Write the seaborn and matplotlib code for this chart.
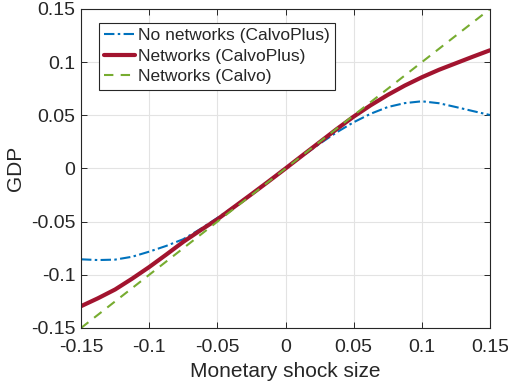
import numpy as np
import pandas as pd
import matplotlib
matplotlib.use("Agg")
import matplotlib.pyplot as plt
import seaborn as sns

# Monetary shock grid
shock = [-0.15, -0.1375, -0.125, -0.1125, -0.1, -0.0875, -0.075, -0.0625, -0.05,
         -0.0375, -0.025, -0.0125, 0.0, 0.0125, 0.025, 0.0375, 0.05, 0.0625,
         0.075, 0.0875, 0.1, 0.1125, 0.125, 0.1375, 0.15]

# GDP responses
gdp_no_networks_calvoplus = [-0.0854, -0.0861, -0.0857, -0.0830, -0.0782, -0.0728, -0.0665,
                             -0.0570, -0.0465, -0.0355, -0.0238, -0.0120, 0.0, 0.0118,
                             0.0232, 0.0340, 0.0435, 0.0515, 0.0578, 0.0615, 0.0632,
                             0.0614, 0.0578, 0.0540, 0.0503]
gdp_networks_calvoplus = [-0.1295, -0.1220, -0.1138, -0.1036, -0.0927, -0.0810, -0.0690,
                          -0.0582, -0.0478, -0.0360, -0.0242, -0.0122, 0.0, 0.0124,
                          0.0247, 0.0370, 0.0488, 0.0595, 0.0692, 0.0780, 0.0858,
                          0.0928, 0.0990, 0.1052, 0.1112]
gdp_networks_calvo = [-0.15, -0.1375, -0.125, -0.1125, -0.1, -0.0875, -0.075, -0.0625, -0.05,
                      -0.0375, -0.025, -0.0125, 0.0, 0.0125, 0.025, 0.0375, 0.05, 0.0625,
                      0.075, 0.0875, 0.1, 0.1125, 0.125, 0.1375, 0.15]

series_labels = ["No networks (CalvoPlus)", "Networks (CalvoPlus)", "Networks (Calvo)"]
tick_values = [-0.15, -0.1, -0.05, 0, 0.05, 0.1, 0.15]
tick_labels = ["-0.15", "-0.1", "-0.05", "0", "0.05", "0.1", "0.15"]

df = pd.DataFrame({
    "shock": shock,
    series_labels[0]: gdp_no_networks_calvoplus,
    series_labels[1]: gdp_networks_calvoplus,
    series_labels[2]: gdp_networks_calvo,
})

sns.set_theme(style="white")
plt.rcParams["font.family"] = ["Liberation Sans", "DejaVu Sans"]

fig = plt.figure(figsize=(5.08, 3.83), dpi=100)
ax = fig.add_axes([81 / 508, 1 - 328 / 383, 409 / 508, 319 / 383])

styles = [
    dict(color="#0072BD", linewidth=1.5, dashes=(5, 1.6, 1.2, 1.6)),
    dict(color="#A2142F", linewidth=3.0),
    dict(color="#77AC30", linewidth=1.5, dashes=(4.5, 3.5)),
]
for lab, st in zip(series_labels, styles):
    dashes = st.pop("dashes", None)
    line_ax = sns.lineplot(data=df, x="shock", y=lab, ax=ax, label=lab, **st)
    if dashes is not None:
        line_ax.lines[-1].set_dashes(dashes)

ax.set_xlim(-0.15, 0.15)
ax.set_ylim(-0.15, 0.15)
ax.set_xticks(tick_values)
ax.set_xticklabels(tick_labels)
ax.set_yticks(tick_values)
ax.set_yticklabels(tick_labels)

ax.grid(True, color="#e3e3e3", linewidth=0.8)
ax.set_axisbelow(True)
for sp in ax.spines.values():
    sp.set_color("#262626")
    sp.set_linewidth(0.8)
ax.tick_params(axis="both", direction="in", length=4, width=0.7, color="#262626",
               labelsize=14, labelcolor="#262626", top=True, right=True,
               bottom=True, left=True)
ax.tick_params(axis="x", pad=8)
ax.tick_params(axis="y", pad=4)

ax.set_xlabel("Monetary shock size", fontsize=15, color="#262626", labelpad=4)
ax.set_ylabel("GDP", fontsize=15, color="#262626", labelpad=4)

leg = ax.legend(loc="upper left", bbox_to_anchor=(0.043, 0.957), fontsize=12.5,
                frameon=True, fancybox=False, edgecolor="#262626", framealpha=1,
                handlelength=1.8, handletextpad=0.15, borderpad=0.3, labelspacing=0.32,
                borderaxespad=0)
leg.get_frame().set_linewidth(0.8)
for t in leg.get_texts():
    t.set_color("#262626")

fig.savefig("out.png", dpi=100)
